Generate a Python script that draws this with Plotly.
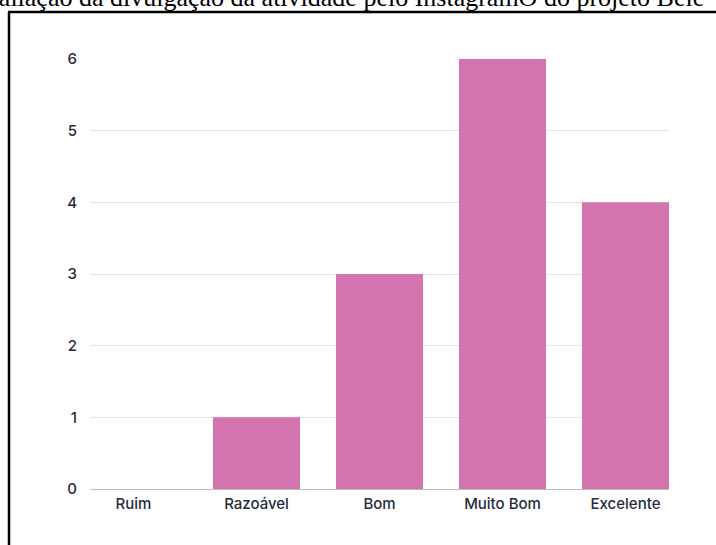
import plotly.graph_objects as go

categories = ["Ruim", "Razoável", "Bom", "Muito Bom", "Excelente"]
values = [0, 1, 3, 6, 4]
y_ticks = [0, 1, 2, 3, 4, 5, 6]
title_text = "Avaliação da divulgação da atividade pelo InstagramO do projeto Bele"

W, H = 716, 545
L, R, T, B = 90, 47, 59, 56
pw, ph = W - L - R, H - T - B

def px(x):
    return (x - L) / pw

def py(y):
    return (H - B - y) / ph

bar_frac = 87 / 123
label_color = "#1f2d3d"

fig = go.Figure(go.Bar(x=categories, y=values, marker=dict(color="#D474AE", line=dict(width=0))))

fig.update_layout(
    width=W, height=H,
    margin=dict(l=L, r=R, t=T, b=B),
    plot_bgcolor="white", paper_bgcolor="white",
    bargap=1 - bar_frac,
    showlegend=False,
    font=dict(family="Inter, Lato, sans-serif", color=label_color, size=15),
    xaxis=dict(range=[-bar_frac / 2, len(categories) - 1 + bar_frac / 2],
               showgrid=False, showline=False, zeroline=False, ticks="",
               ticklabelstandoff=4,
               tickfont=dict(size=15, color=label_color, weight=500)),
    yaxis=dict(range=[0, 6], tickvals=y_ticks, showgrid=True, gridcolor="#e3e3e3", gridwidth=1,
               zeroline=True, zerolinecolor="#bdbdbd", zerolinewidth=1, showline=False,
               ticks="", ticklabelstandoff=12,
               tickfont=dict(size=15, color=label_color, weight=500)),
    shapes=[
        dict(type="line", xref="paper", yref="paper", x0=px(9), x1=px(9), y0=py(12), y1=py(600),
             line=dict(color="black", width=2.5)),
        dict(type="line", xref="paper", yref="paper", x0=px(8), x1=px(760), y0=py(12), y1=py(12),
             line=dict(color="black", width=2.5)),
    ],
    annotations=[
        dict(text=title_text, xref="paper", yref="paper", x=px(-33), y=py(-2),
             xanchor="left", yanchor="middle", showarrow=False,
             font=dict(family="Liberation Serif, Times New Roman, serif", size=26, color="black")),
    ],
)

fig.write_html("out.html")
